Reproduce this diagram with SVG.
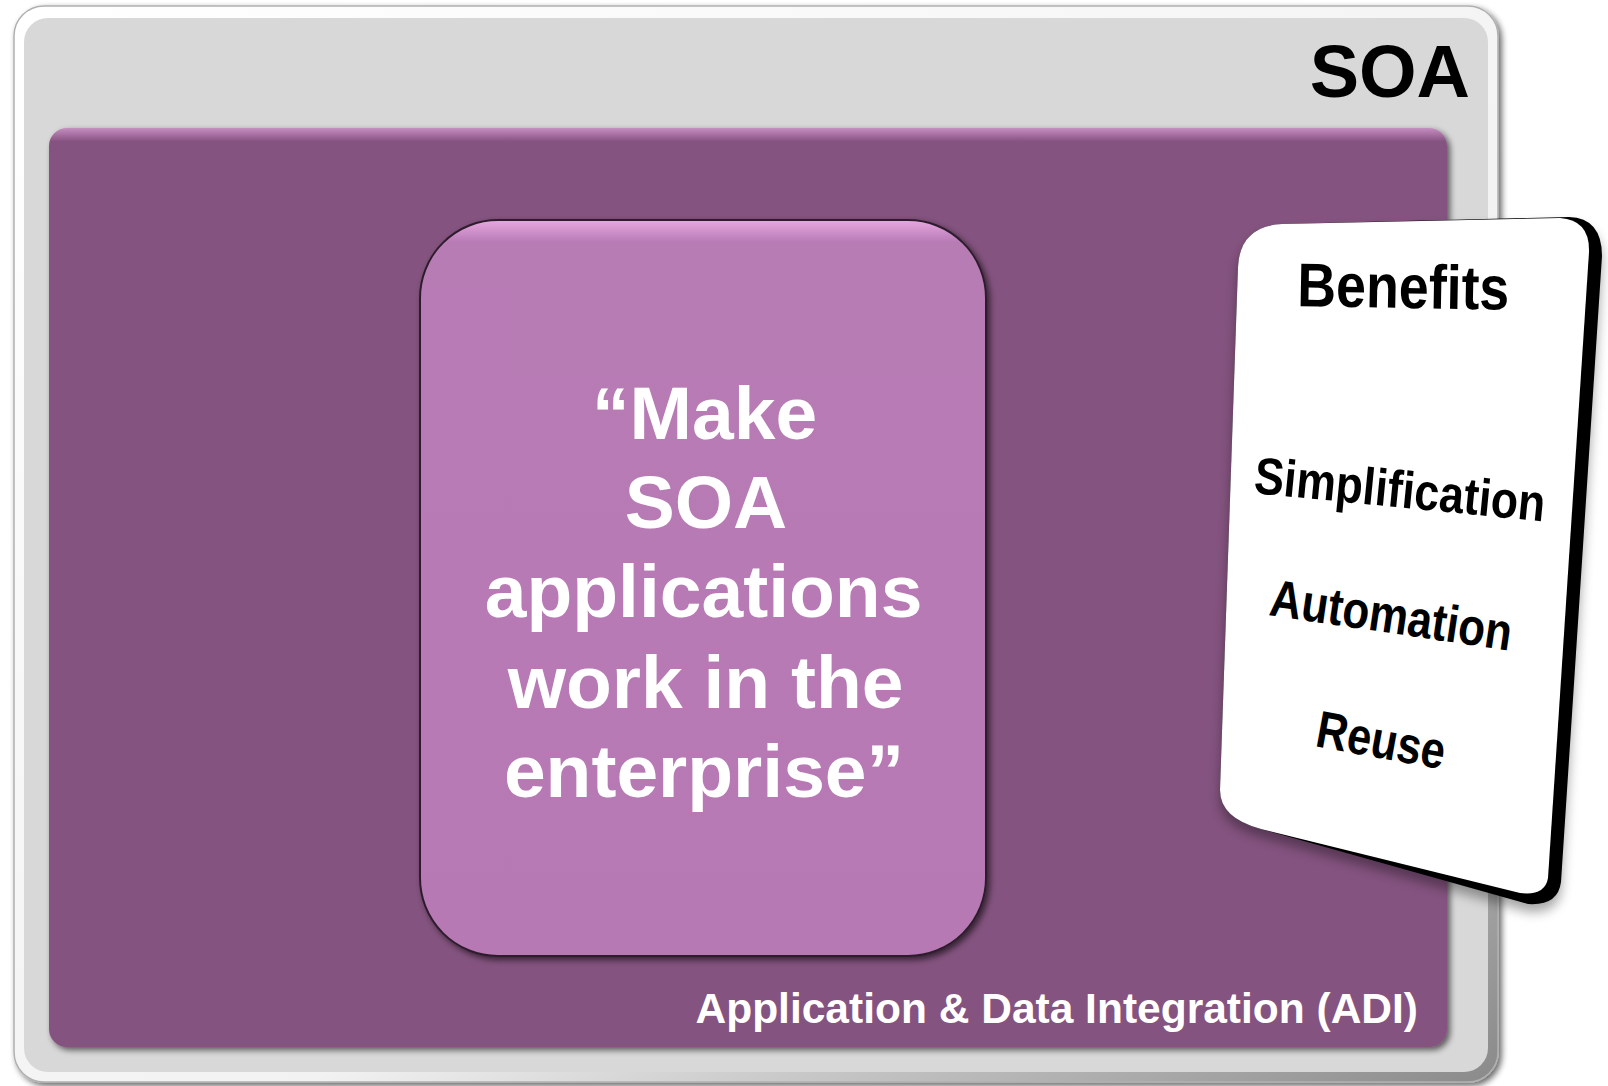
<svg xmlns="http://www.w3.org/2000/svg" width="1608" height="1086" viewBox="0 0 1608 1086">
<defs>
<style>
.b{font-family:"Liberation Sans",Arial,sans-serif;font-weight:bold}
.w{fill:#ffffff}
.k{fill:#000000}
</style>
<linearGradient id="grayRim" x1="0" y1="0" x2="1" y2="1">
<stop offset="0" stop-color="#ffffff"/>
<stop offset="0.6" stop-color="#f2f2f2"/>
<stop offset="1" stop-color="#8a8a8a"/>
</linearGradient>
<linearGradient id="pinkG" x1="0" y1="0" x2="0" y2="1">
<stop offset="0" stop-color="#e8a8e2"/>
<stop offset="0.03" stop-color="#b87bb5"/>
<stop offset="1" stop-color="#b679b3"/>
</linearGradient>
<linearGradient id="purpG" x1="0" y1="0" x2="0" y2="1">
<stop offset="0" stop-color="#c58fc0"/>
<stop offset="0.008" stop-color="#a46c9f"/>
<stop offset="0.015" stop-color="#84527f"/>
<stop offset="1" stop-color="#84527f"/>
</linearGradient>
<filter id="sh" x="-5%" y="-5%" width="110%" height="110%">
<feGaussianBlur in="SourceAlpha" stdDeviation="3"/>
<feOffset dx="3" dy="3" result="o"/>
<feComponentTransfer><feFuncA type="linear" slope="0.6"/></feComponentTransfer>
<feMerge><feMergeNode/><feMergeNode in="SourceGraphic"/></feMerge>
</filter>
<filter id="cardSh" x="-10%" y="-10%" width="120%" height="120%">
<feGaussianBlur in="SourceAlpha" stdDeviation="6"/>
<feOffset dx="0" dy="8"/>
<feComponentTransfer><feFuncA type="linear" slope="0.35"/></feComponentTransfer>
<feMerge><feMergeNode/><feMergeNode in="SourceGraphic"/></feMerge>
</filter>
</defs>
<rect width="1608" height="1086" fill="#ffffff"/>
<g id="soa">
<rect x="14" y="6" width="1484" height="1076" rx="30" fill="url(#grayRim)" stroke="#b0b0b0" stroke-width="1.5" filter="url(#sh)"/>
<rect x="24" y="18" width="1464" height="1054" rx="24" fill="#d8d8d8"/>
<text class="b k" x="1470" y="97" font-size="74" text-anchor="end">SOA</text>
</g>
<g id="adi">
<rect x="49" y="128" width="1398" height="919" rx="18" fill="url(#purpG)" filter="url(#sh)"/>
<text class="b w" x="1418" y="1023" font-size="42.5" text-anchor="end">Application &amp; Data Integration (ADI)</text>
</g>
<g id="mission">
<rect x="420" y="220" width="566" height="736" rx="78" fill="url(#pinkG)" stroke="#2e1f2d" stroke-width="2" filter="url(#sh)"/>
<text class="b w" font-size="75" text-anchor="middle">
<tspan x="715" y="439">“Make</tspan>
<tspan x="715" y="528">SOA</tspan>
<tspan x="714" y="617">applications</tspan>
<tspan x="716" y="708">work in the</tspan>
<tspan x="704" y="797">enterprise”</tspan>
</text>
</g>
<g id="benefits">
<path d="M1238,267 Q1240,226 1282,224 L1569,217 Q1602,218 1602,256 L1561,882 Q1558,906 1528,904 L1261,829 Q1220,818 1220,790 Z" fill="#000000" filter="url(#cardSh)"/>
<path d="M1238,267 Q1240,226 1282,224 L1560,218 Q1590,220 1589,252 L1548,878 Q1545,896 1520,893 L1261,829 Q1220,818 1220,790 Z" fill="#ffffff"/>
<text class="b k" x="1403" y="308" font-size="62" text-anchor="middle" textLength="212" lengthAdjust="spacingAndGlyphs" transform="rotate(1 1403 308)">Benefits</text>
<text class="b k" x="1253" y="493" font-size="52" textLength="292" lengthAdjust="spacingAndGlyphs" transform="rotate(5.6 1253 493)">Simplification</text>
<text class="b k" x="1268" y="615" font-size="52" textLength="244" lengthAdjust="spacingAndGlyphs" transform="rotate(8.4 1268 615)">Automation</text>
<text class="b k" x="1314" y="746" font-size="52" textLength="130" lengthAdjust="spacingAndGlyphs" transform="rotate(10.4 1314 746)">Reuse</text>
</g>
<g id="connectors"/>
</svg>
